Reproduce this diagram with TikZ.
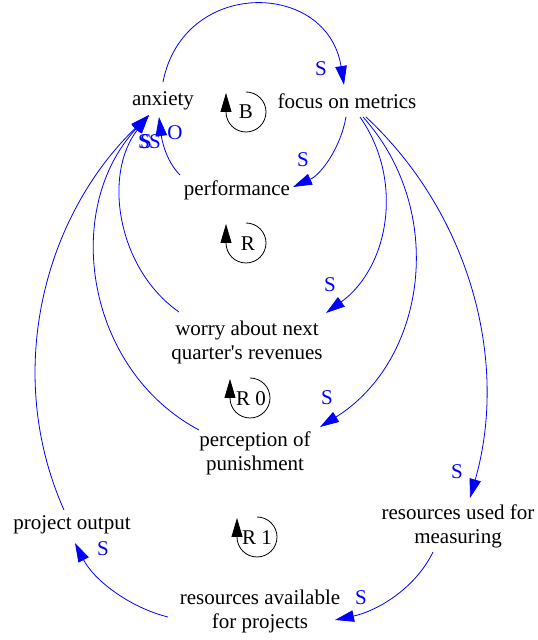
\documentclass[tikz,border=0pt]{standalone}
\usepackage{fontspec}
\setmainfont{Liberation Serif}
\usetikzlibrary{arrows.meta}
\begin{document}
\begin{tikzpicture}[x=1pt,y=1pt,
  every node/.style={inner sep=0pt, font=\fontsize{21}{24}\selectfont},
  var/.style={align=center, text=black},
  pol/.style={text=blue},
  link/.style={draw=blue, line width=0.8pt, -{Triangle[length=19pt,width=11.5pt]}},
  looparc/.style={draw=black, line width=0.8pt, -{Triangle[length=19pt,width=11pt]}}]
\useasboundingbox (0,0) rectangle (538,640);

% variables
\node[var] (anx)    at (163,539) {anxiety};
\node[var] (foc)    at (347,539) {focus on metrics};
\node[var] (perf)   at (237,450) {performance};
\node[var] (worry)  at (247,298) {worry about next\\quarter\textquotesingle s revenues};
\node[var] (perc)   at (255,187) {perception of\\punishment};
\node[var] (proj)   at (72,115)  {project output};
\node[var] (rused)  at (458,114) {resources used for\\measuring};
\node[var] (ravail) at (260,29)  {resources available\\for projects};

% causal links
\draw[link] ([shift={(0,19)}]anx.center) to[out=79,in=99,looseness=1.5] ([shift={(-3,16)}]foc.center);
\draw[link] ([shift={(-1,-16)}]foc.center) to[out=-100,in=24,looseness=0.9] ([shift={(56,3)}]perf.center);
\draw[link] ([shift={(-57,15)}]perf.center) to[out=135,in=277,looseness=0.87] ([shift={(-4,-16)}]anx.center);
\draw[link] ([shift={(-68,30)}]worry.center) to[out=145,in=232,looseness=0.97] ([shift={(-14,-14)}]anx.center);
\draw[link] ([shift={(-56,23)}]perc.center) to[out=152,in=227,looseness=1.03] ([shift={(-14,-14)}]anx.center);
\draw[link] ([shift={(-8,15)}]proj.center) to[out=114,in=224,looseness=0.94] ([shift={(-14,-14)}]anx.center);
\draw[link] ([shift={(13,-16)}]foc.center) to[out=-55,in=36,looseness=1.0] ([shift={(79,29)}]worry.center);
\draw[link] ([shift={(16,-16)}]foc.center) to[out=-48,in=32,looseness=1.03] ([shift={(65,26)}]perc.center);
\draw[link] ([shift={(19,-16)}]foc.center) to[out=-43,in=74,looseness=0.92] ([shift={(12,28)}]rused.center);
\draw[link] ([shift={(-25,-26)}]rused.center) to[out=-116,in=12,looseness=0.9] ([shift={(75,-9)}]ravail.center);
\draw[link] ([shift={(-92,-6)}]ravail.center) to[out=166,in=-63,looseness=0.88] ([shift={(3,-18)}]proj.center);

% polarity labels
\node[pol] (p1) at (321,571) {S};
\node[pol] (p2) at (303,480) {S};
\node[pol] (p3) at (175,507) {O};
\node[pol] (p4) at (144,498) {S};
\node[pol] (p5) at (146,498) {S};
\node[pol] (p6) at (155,498) {S};
\node[pol] (p7) at (330,355) {S};
\node[pol] (p8) at (327,242) {S};
\node[pol] (p9) at (457,168) {S};
\node[pol] (p10) at (361,42) {S};
\node[pol] (p11) at (103,91) {S};

% loop markers
\coordinate (cB) at (246,528);
\coordinate (cR) at (246,397);
\coordinate (cR0) at (250,242);
\coordinate (cR1) at (257,103);
\foreach \c in {cB,cR,cR0,cR1}
  \draw[looparc] ([shift={(90:20)}]\c) arc[start angle=90, end angle=-180, radius=20] -- ++(0,19);
\node (lB) at (246,528) {B};
\node (lR) at (248,396) {R};
\node (lR0) at (251,241) {R 0};
\node (lR1) at (257,102) {R 1};
\end{tikzpicture}
\end{document}
